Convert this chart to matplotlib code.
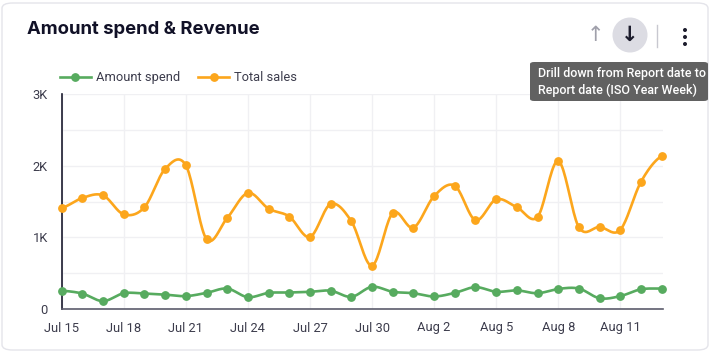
import matplotlib.pyplot as plt
import numpy as np
from matplotlib.patches import FancyBboxPatch, Ellipse
from matplotlib.ticker import FixedLocator, FuncFormatter

# data (Jul 15 .. Aug 13)
days = list(range(30))
tick_pos = [0, 3, 6, 9, 12, 15, 18, 21, 24, 27]
tick_labels = ['Jul 15', 'Jul 18', 'Jul 21', 'Jul 24', 'Jul 27',
               'Jul 30', 'Aug 2', 'Aug 5', 'Aug 8', 'Aug 11']
amount_spend = [255, 215, 110, 220, 215, 200, 180, 225, 285, 165,
                225, 230, 240, 255, 170, 310, 240, 220, 175, 225,
                305, 240, 260, 220, 280, 285, 150, 180, 275, 285]
total_sales = [1410, 1550, 1585, 1320, 1420, 1955, 2005, 975, 1270, 1620,
               1400, 1290, 1005, 1465, 1225, 605, 1340, 1135, 1575, 1720,
               1240, 1530, 1420, 1285, 2065, 1140, 1145, 1105, 1775, 2135]

GREEN = '#57ab5f'
ORANGE = '#fca61c'
W, H = 711, 352


def smooth(x, y, n=20):
    # catmull-rom curve through the points, only for drawing the line
    x = np.asarray(x, float)
    y = np.asarray(y, float)
    px = np.concatenate([[2 * x[0] - x[1]], x, [2 * x[-1] - x[-2]]])
    py = np.concatenate([[y[0]], y, [y[-1]]])
    xs, ys = [], []
    for i in range(1, len(px) - 2):
        t = np.linspace(0, 1, n, endpoint=False)
        for p, out in ((px, xs), (py, ys)):
            p0, p1, p2, p3 = p[i - 1], p[i], p[i + 1], p[i + 2]
            out.extend(0.5 * (2 * p1 + (-p0 + p2) * t
                              + (2 * p0 - 5 * p1 + 4 * p2 - p3) * t ** 2
                              + (-p0 + 3 * p1 - 3 * p2 + p3) * t ** 3))
    xs.append(x[-1])
    ys.append(y[-1])
    return xs, ys


def dot(cx, cy, d, color):
    fig.add_artist(Ellipse((cx / W, 1 - cy / H), d / W, d / H,
                           transform=fig.transFigure, facecolor=color,
                           edgecolor='none', zorder=2))


plt.rcParams['font.family'] = ['Roboto', 'DejaVu Sans']
fig = plt.figure(figsize=(W / 100, H / 100), dpi=100)

# card
fig.add_artist(FancyBboxPatch((2 / W, 2 / H), (W - 5) / W, (H - 5) / H,
                              boxstyle='round,pad=0,rounding_size=0.015',
                              transform=fig.transFigure, facecolor='white',
                              edgecolor='#e4e4ea', linewidth=1, zorder=-5))

fig.text(27 / W, 1 - 30 / H, 'Amount spend & Revenue', fontsize=13.3,
         fontweight='bold', color='#111127', va='center',
         family=['Inter', 'DejaVu Sans'])

# icons top right
fig.text(595 / W, 1 - 35 / H, '↑', fontsize=15, color='#a0a0ab',
         ha='center', va='center', family='DejaVu Sans')
dot(630, 35, 35, '#dcdce3')
fig.text(630 / W, 1 - 35 / H, '↓', fontsize=15, color='#1c1c2c',
         ha='center', va='center', family='DejaVu Sans', fontweight='bold', zorder=3)
fig.add_artist(plt.Line2D([657 / W, 657 / W], [1 - 25 / H, 1 - 47 / H],
                          transform=fig.transFigure, color='#c8c8d0', lw=1))
for yy in (30, 37, 44):
    dot(685, yy, 4, '#1c1c2c')

# tooltip
fig.add_artist(FancyBboxPatch((530 / W, 1 - 101 / H), 178 / W, 39 / H,
                              boxstyle='round,pad=0,rounding_size=0.006',
                              transform=fig.transFigure, facecolor='#616161',
                              edgecolor='none', zorder=5))
fig.text(538 / W, 1 - 74 / H, 'Drill down from Report date to', fontsize=9.0,
         color='white', va='center', fontweight='medium', zorder=6)
fig.text(538 / W, 1 - 90 / H, 'Report date (ISO Year Week)', fontsize=9.0,
         color='white', va='center', fontweight='medium', zorder=6)

ax = fig.add_axes([61.7 / W, (H - 309) / H, 601 / W, 215 / H])
ax.set_facecolor('none')

for vals, col, lab in ((amount_spend, GREEN, 'Amount spend'),
                       (total_sales, ORANGE, 'Total sales')):
    sx, sy = smooth(days, vals)
    ax.plot(sx, sy, color=col, lw=1.9, zorder=3, clip_on=False)
    ax.plot(days, vals, 'o', color=col, ms=5.3, zorder=4, clip_on=False)
    ax.plot([], [], '-o', color=col, lw=1.9, ms=5.3, label=lab)

ax.set_xlim(0, 29.05)
ax.set_ylim(0, 3000)
ax.xaxis.set_major_locator(FixedLocator(tick_pos))
ax.set_xticklabels(tick_labels)
ax.yaxis.set_major_locator(FixedLocator([0, 1000, 2000, 3000]))
ax.yaxis.set_minor_locator(FixedLocator([500, 1500, 2500]))
ax.yaxis.set_major_formatter(FuncFormatter(lambda v, p: '0' if v == 0 else f'{int(v / 1000)}K'))
ax.grid(True, which='both', color='#f0f0f3', lw=1)
ax.set_axisbelow(True)
ax.tick_params(which='both', length=0, labelsize=9.3, colors='#3c3c4c')
ax.tick_params(axis='x', pad=9)
ax.tick_params(axis='y', pad=10)
for s in ('top', 'right'):
    ax.spines[s].set_visible(False)
ax.spines['left'].set_color('#1a1a2e')
ax.spines['bottom'].set_color('#5c5c6c')
ax.spines['left'].set_linewidth(1.2)
ax.spines['bottom'].set_linewidth(1.2)

ax.legend(loc='lower left', bbox_to_anchor=(-0.003, 1.045), ncol=2, frameon=False,
          fontsize=9.3, handlelength=2.4, handletextpad=0.4, columnspacing=1.4,
          borderaxespad=0, borderpad=0, labelcolor='#3c3c4c')

fig.savefig('out.png', dpi=100)
